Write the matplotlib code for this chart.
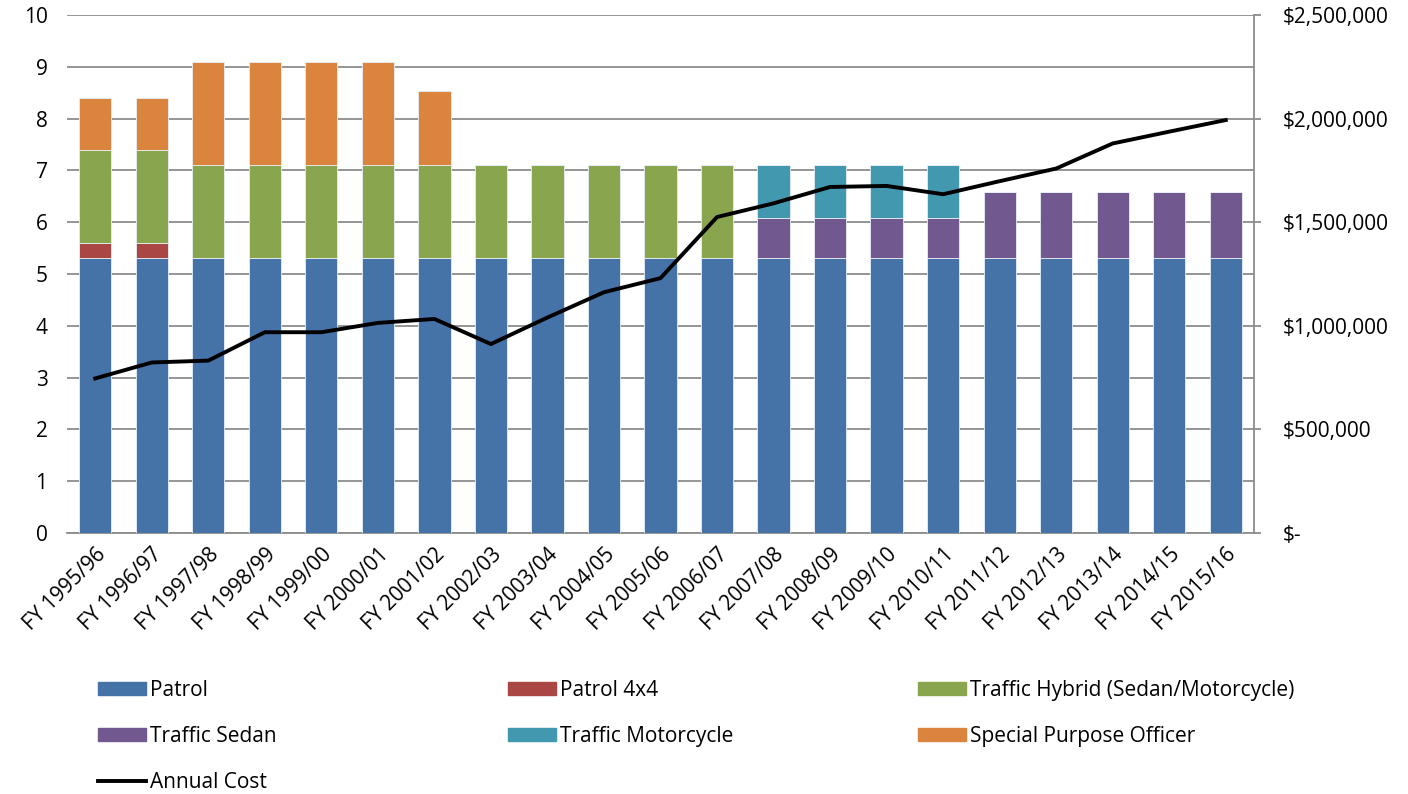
import numpy as np
import matplotlib.pyplot as plt
from matplotlib.ticker import FuncFormatter, MultipleLocator
from matplotlib.lines import Line2D
from matplotlib.patches import Patch

plt.rcParams['font.family'] = ['Open Sans', 'DejaVu Sans']

years = ['FY 1995/96', 'FY 1996/97', 'FY 1997/98', 'FY 1998/99', 'FY 1999/00',
         'FY 2000/01', 'FY 2001/02', 'FY 2002/03', 'FY 2003/04', 'FY 2004/05',
         'FY 2005/06', 'FY 2006/07', 'FY 2007/08', 'FY 2008/09', 'FY 2009/10',
         'FY 2010/11', 'FY 2011/12', 'FY 2012/13', 'FY 2013/14', 'FY 2014/15',
         'FY 2015/16']

patrol = [5.3] * 21
patrol_4x4 = [0.3, 0.3] + [0] * 19
traffic_hybrid = [1.8] * 12 + [0] * 9
traffic_sedan = [0] * 12 + [0.78] * 4 + [1.28] * 5
traffic_moto = [0] * 12 + [1.03] * 4 + [0] * 5
spo = [1.0, 1.0, 2.0, 2.0, 2.0, 2.0, 1.43] + [0] * 14

annual_cost = [746000, 823000, 832000, 969000, 969000, 1014000, 1033000,
               912000, 1040000, 1162000, 1230000, 1525000, 1591000, 1670000,
               1675000, 1635000, 1698000, 1759000, 1880000, 1937000, 1993000]

blue = '#4572A7'
red = '#AA4643'
green = '#89A54E'
purple = '#71588F'
teal = '#4198AF'
orange = '#DB843D'
grid_gray = '#8c8c8c'
FS = 15


def money(v, pos):
    if v == 0:
        return '$-'
    return '${:,.0f}'.format(v)


def main():
    fig = plt.figure(figsize=(14.08, 7.94), dpi=100)
    ax = fig.add_axes([67 / 1408, 1 - 533 / 794, (1254 - 67) / 1408, 518 / 794])
    ax2 = ax.twinx()

    x = np.arange(len(years))
    width = 0.57
    bottom = np.zeros(len(years))
    series = [
        (patrol, blue, 'Patrol'),
        (patrol_4x4, red, 'Patrol 4x4'),
        (traffic_hybrid, green, 'Traffic Hybrid (Sedan/Motorcycle)'),
        (traffic_sedan, purple, 'Traffic Sedan'),
        (traffic_moto, teal, 'Traffic Motorcycle'),
        (spo, orange, 'Special Purpose Officer'),
    ]
    for vals, color, label in series:
        vals = np.array(vals, dtype=float)
        ax.bar(x, vals, width, bottom=bottom, color=color,
               edgecolor='#e8eef6', linewidth=0.6, zorder=3)
        bottom += vals

    ax2.plot(x, annual_cost, color='black', linewidth=2.8,
             solid_joinstyle='round', zorder=5)

    ax.set_xlim(-0.5, len(years) - 0.5)
    ax.set_ylim(0, 10)
    ax2.set_ylim(0, 2500000)
    ax.yaxis.set_major_locator(MultipleLocator(1))
    ax2.yaxis.set_major_locator(MultipleLocator(500000))
    ax2.yaxis.set_major_formatter(FuncFormatter(money))

    ax.yaxis.grid(True, color=grid_gray, linewidth=1.3, zorder=0)
    ax.set_axisbelow(True)
    ax.set_zorder(ax2.get_zorder() - 1)
    ax.patch.set_visible(False)
    ax2.patch.set_visible(False)

    for a in (ax, ax2):
        for s in ('top', 'left'):
            a.spines[s].set_visible(False)
    ax.spines['right'].set_visible(False)
    ax2.spines['bottom'].set_visible(False)
    ax.spines['bottom'].set_color(grid_gray)
    ax.spines['bottom'].set_linewidth(1.3)
    ax2.spines['right'].set_color(grid_gray)
    ax2.spines['right'].set_linewidth(1.3)

    ax.tick_params(axis='y', length=0, pad=14, labelsize=FS)
    ax.tick_params(axis='x', length=0, pad=8, labelsize=FS)
    ax2.tick_params(axis='y', length=5, width=1.3, color=grid_gray,
                    direction='out', pad=16, labelsize=FS)

    ax.set_xticks(x)
    ax.set_xticklabels(years, rotation=45, ha='right', va='top',
                       rotation_mode='anchor')

    # legend in three fixed columns below the chart
    leg_kw = dict(loc='upper left', frameon=False, fontsize=FS,
                  handlelength=2.3, handleheight=0.6, handletextpad=0.2,
                  labelspacing=1.2, borderpad=0, borderaxespad=0)
    col1 = [Patch(color=blue, label='Patrol'),
            Patch(color=purple, label='Traffic Sedan'),
            Line2D([], [], color='black', linewidth=2.8, label='Annual Cost')]
    col2 = [Patch(color=red, label='Patrol 4x4'),
            Patch(color=teal, label='Traffic Motorcycle')]
    col3 = [Patch(color=green, label='Traffic Hybrid (Sedan/Motorcycle)'),
            Patch(color=orange, label='Special Purpose Officer')]
    top = 1 - 680 / 794
    for handles, left in ((col1, 98), (col2, 508), (col3, 918)):
        fig.legend(handles=handles, bbox_to_anchor=(left / 1408, top),
                   **leg_kw)

    fig.savefig('out.png', dpi=100, facecolor='white')
    plt.close()


if __name__ == '__main__':
    main()
